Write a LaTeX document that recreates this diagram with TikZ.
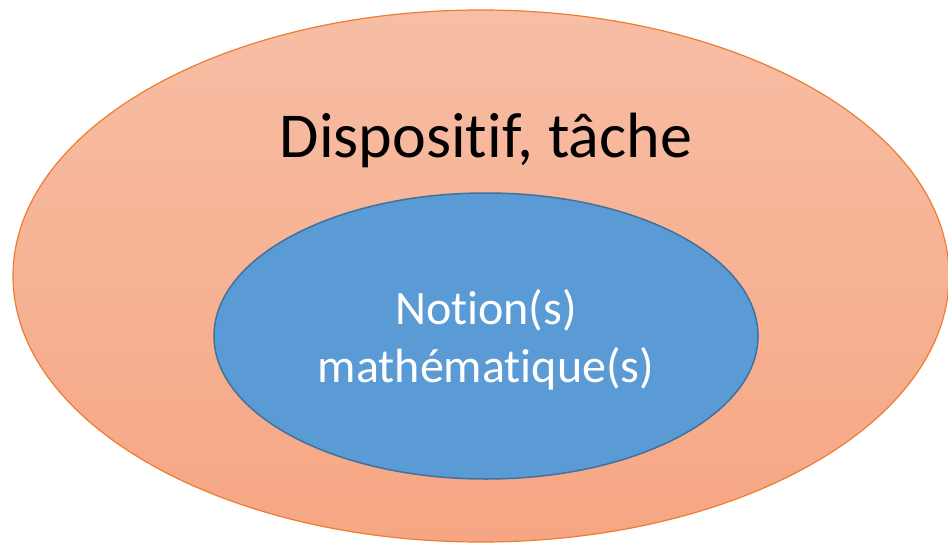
\documentclass[tikz,border=0pt]{standalone}
\usepackage{fontspec}
\setmainfont[RawFeature=-liga]{Carlito}
\definecolor{outtop}{HTML}{F7BEA5}
\definecolor{outbot}{HTML}{F6A683}
\definecolor{outline}{HTML}{ED7D31}
\definecolor{infill}{HTML}{5B9BD5}
\definecolor{inline}{HTML}{41719C}
\begin{document}
\begin{tikzpicture}[x=1pt,y=-1pt,
  outertext/.style={font=\fontsize{64}{77}\selectfont,text=black,inner sep=0pt},
  innertext/.style={font=\fontsize{48}{58}\selectfont,text=white,align=center,inner sep=0pt}]
\useasboundingbox (0,0) rectangle (948,543);
\begin{scope}
\clip (0,0) rectangle (948,543);
\shade[top color=outtop,bottom color=outbot,draw=outline,line width=1.2pt]
  (481,276) ellipse [x radius=468, y radius=266];
\end{scope}
\filldraw[fill=infill,draw=inline,line width=1.5pt]
  (486,336) ellipse [x radius=272, y radius=143];
\node[outertext] (outer) at (486,140) {Dispositif, tâche};
\node[innertext] (inner) at (486,340) {Notion(s)\\mathématique(s)};
\end{tikzpicture}
\end{document}
